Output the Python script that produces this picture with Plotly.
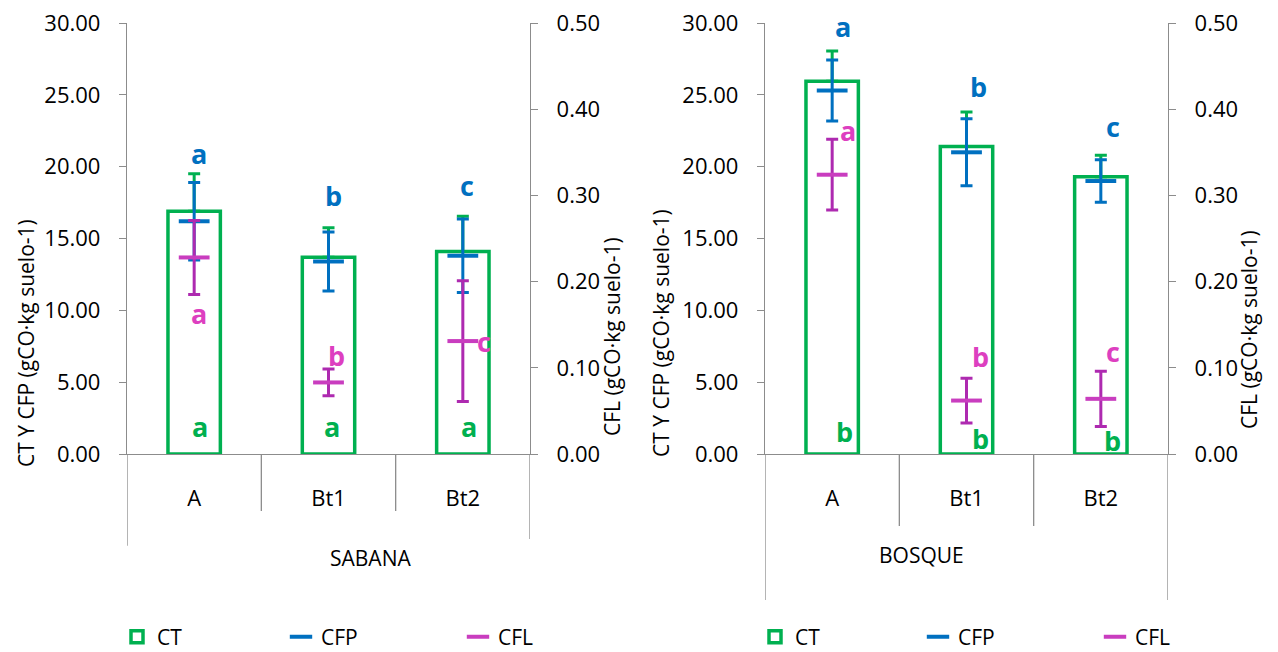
import plotly.graph_objects as go

# ---------------- data ----------------
categories = ["A", "Bt1", "Bt2"]

sabana_ct = [16.9, 13.7, 14.1]
sabana_ct_err = [2.6, 2.05, 2.45]
sabana_cfp = [16.2, 13.4, 13.8]
sabana_cfp_err = [2.7, 2.05, 2.55]
sabana_cfl = [0.228, 0.083, 0.131]
sabana_cfl_err = [0.043, 0.0155, 0.070]

bosque_ct = [25.95, 21.4, 19.3]
bosque_ct_err = [2.1, 2.4, 1.5]
bosque_cfp = [25.3, 21.0, 19.0]
bosque_cfp_err = [2.12, 2.33, 1.48]
bosque_cfl = [0.324, 0.062, 0.064]
bosque_cfl_err = [0.041, 0.026, 0.032]

sabana_ct_letters = ["a", "a", "a"]
sabana_cfp_letters = ["a", "b", "c"]
sabana_cfl_letters = ["a", "b", "c"]
bosque_ct_letters = ["b", "b", "b"]
bosque_cfp_letters = ["a", "b", "c"]
bosque_cfl_letters = ["a", "b", "c"]

y_ticks_left = [0, 5, 10, 15, 20, 25, 30]
y_ticks_right = [0, 0.1, 0.2, 0.3, 0.4, 0.5]

# --------------- styles ---------------
GREEN = "#00B050"
BLUE = "#0070C0"
MAG_LINE = "#AE2AB0"
MAG_MARK = "#C93DBF"
MAG_TEXT = "#DD3FC0"
AXIS = "#8C8C8C"
FONT = "Open Sans"
W, H = 1278, 652

# letter placements (primary-axis units, pixel x shifts)
place = {
    "sabana": dict(
        cfp=([20.95, 18.02, 18.72], [5, 5, 4]),
        cfl=([9.81, 6.89, 7.82], [5, 8, 21]),
        ct=([1.9, 1.9, 1.9], [6, 3, 6]),
    ),
    "bosque": dict(
        cfp=([29.74, 25.61, 22.78], [11, 12, 12]),
        cfl=([22.55, 6.77, 7.12], [16, 14, 12]),
        ct=([1.55, 1.11, 0.97], [12, 14, 12]),
    ),
}


def px_x(p):
    return p / W


def px_y(p):
    return 1 - p / H


fig = go.Figure()

panels = [
    dict(key="sabana", xa="x", ya="y", ya2="y2", ct=sabana_ct, cte=sabana_ct_err,
         cfp=sabana_cfp, cfpe=sabana_cfp_err, cfl=sabana_cfl, cfle=sabana_cfl_err,
         lg=["legend", "legend2", "legend3"],
         letters=(sabana_ct_letters, sabana_cfp_letters, sabana_cfl_letters)),
    dict(key="bosque", xa="x2", ya="y3", ya2="y4", ct=bosque_ct, cte=bosque_ct_err,
         cfp=bosque_cfp, cfpe=bosque_cfp_err, cfl=bosque_cfl, cfle=bosque_cfl_err,
         lg=["legend4", "legend5", "legend6"],
         letters=(bosque_ct_letters, bosque_cfp_letters, bosque_cfl_letters)),
]

for p in panels:
    fig.add_trace(go.Bar(
        x=categories, y=p["ct"], xaxis=p["xa"], yaxis=p["ya"], name="CT",
        width=0.39, legend=p["lg"][0], showlegend=True,
        marker=dict(color="white", line=dict(color=GREEN, width=3.5)),
        error_y=dict(type="data", symmetric=False, array=p["cte"],
                     arrayminus=[0] * len(p["cte"]), color=GREEN, thickness=3, width=6),
    ))
    fig.add_trace(go.Scatter(
        x=categories, y=p["cfp"], xaxis=p["xa"], yaxis=p["ya"], name="CFP",
        mode="markers", legend=p["lg"][1], showlegend=True,
        marker=dict(symbol="line-ew", size=22, color=BLUE, line=dict(color=BLUE, width=4)),
        error_y=dict(type="data", array=p["cfpe"], color=BLUE, thickness=3, width=6),
    ))
    fig.add_trace(go.Scatter(
        x=categories, y=p["cfl"], xaxis=p["xa"], yaxis=p["ya2"], name="CFL",
        mode="markers", legend=p["lg"][2], showlegend=True,
        marker=dict(symbol="line-ew", size=22, color=MAG_MARK, line=dict(color=MAG_MARK, width=4)),
        error_y=dict(type="data", array=p["cfle"], color=MAG_LINE, thickness=3, width=6),
    ))

# --------------- axes ---------------
ydom = [px_y(454), px_y(23)]
xdoms = [[px_x(127), px_x(530)], [px_x(765), px_x(1168)]]

tickfont = dict(family=FONT, size=22, color="#000000")


def yaxis_common(rng, ticks, fmt):
    return dict(range=rng, tickvals=ticks, tickformat=fmt, showgrid=False, zeroline=False,
                showline=True, linecolor=AXIS, linewidth=1.3, ticks="outside", ticklen=7,
                tickcolor=AXIS, tickwidth=1.3, tickfont=tickfont, ticklabelstandoff=14,
                fixedrange=True)


def xaxis_common(dom, anchor):
    return dict(domain=dom, anchor=anchor, type="category", range=[-0.5, 2.5],
                showgrid=False, zeroline=False, showline=True, linecolor=AXIS,
                linewidth=1.3, ticks="", tickfont=tickfont, ticklabelstandoff=24,
                fixedrange=True)


layout = dict(
    width=W, height=H, margin=dict(l=0, r=0, t=0, b=0, autoexpand=False),
    paper_bgcolor="white", plot_bgcolor="white", showlegend=True,
    font=dict(family=FONT, size=22, color="#000000"),
    barmode="overlay",
    xaxis=xaxis_common(xdoms[0], "y"),
    xaxis2=xaxis_common(xdoms[1], "y3"),
    yaxis=dict(domain=ydom, anchor="x", **yaxis_common([0, 30], y_ticks_left, ".2f")),
    yaxis2=dict(overlaying="y", side="right", anchor="x",
                **yaxis_common([0, 0.5], y_ticks_right, ".2f")),
    yaxis3=dict(domain=ydom, anchor="x2", **yaxis_common([0, 30], y_ticks_left, ".2f")),
    yaxis4=dict(overlaying="y3", side="right", anchor="x2",
                **yaxis_common([0, 0.5], y_ticks_right, ".2f")),
)

# legends (one per entry, placed under each panel)
legend_x = [117, 281, 458, 755, 918, 1095]
names = ["legend", "legend2", "legend3", "legend4", "legend5", "legend6"]
for nm, lx in zip(names, legend_x):
    layout[nm] = dict(x=px_x(lx), y=px_y(637), xanchor="left", yanchor="middle",
                      orientation="h", bgcolor="rgba(0,0,0,0)", visible=True,
                      font=dict(family=FONT, size=21, color="#000000"))

fig.update_layout(**layout)

# --------------- category frame lines ---------------
frame = [
    ("x", [-0.213, -0.132, -0.132, -0.197]),
    ("x2", [-0.339, -0.167, -0.167, -0.339]),
]
yd = ["y domain", "y3 domain"]
for (xa, lows), ydr in zip(frame, yd):
    for i, low in enumerate(lows):
        fig.add_shape(type="line", xref=xa, yref=ydr, x0=i - 0.5, x1=i - 0.5,
                      y0=0, y1=low, line=dict(color=AXIS, width=1.3))

# group labels
fig.add_annotation(text="SABANA", xref="paper", yref="paper", x=px_x(328), y=px_y(574),
                   showarrow=False, font=dict(family=FONT, size=21, color="#000"))
fig.add_annotation(text="BOSQUE", xref="paper", yref="paper", x=px_x(966), y=px_y(571),
                   showarrow=False, font=dict(family=FONT, size=21, color="#000"))

# axis titles
ttl = dict(family=FONT, size=21, color="#000")
for x, y, t in [(10, 343, "CT Y CFP (gCO·kg suelo-1)"), (661, 333, "CT Y CFP (gCO·kg suelo-1)"),
                (612, 337, "CFL (gCO·kg suelo-1)"), (1265, 330, "CFL (gCO·kg suelo-1)")]:
    fig.add_annotation(text=t, xref="paper", yref="paper", x=px_x(x), y=px_y(y),
                       textangle=-90, showarrow=False, font=ttl)

# significance letters
for p in panels:
    ctl, cfpl, cfll = p["letters"]
    pl = place[p["key"]]
    for letters, (ys, shifts), col in [(cfpl, pl["cfp"], BLUE), (cfll, pl["cfl"], MAG_TEXT),
                                       (ctl, pl["ct"], GREEN)]:
        for c, l, yv, sh in zip(categories, letters, ys, shifts):
            fig.add_annotation(text="<b>%s</b>" % l, xref=p["xa"], yref=p["ya"], x=c, y=yv,
                               xshift=sh, showarrow=False,
                               font=dict(family=FONT, size=27, color=col))

fig.write_html("out.html")
